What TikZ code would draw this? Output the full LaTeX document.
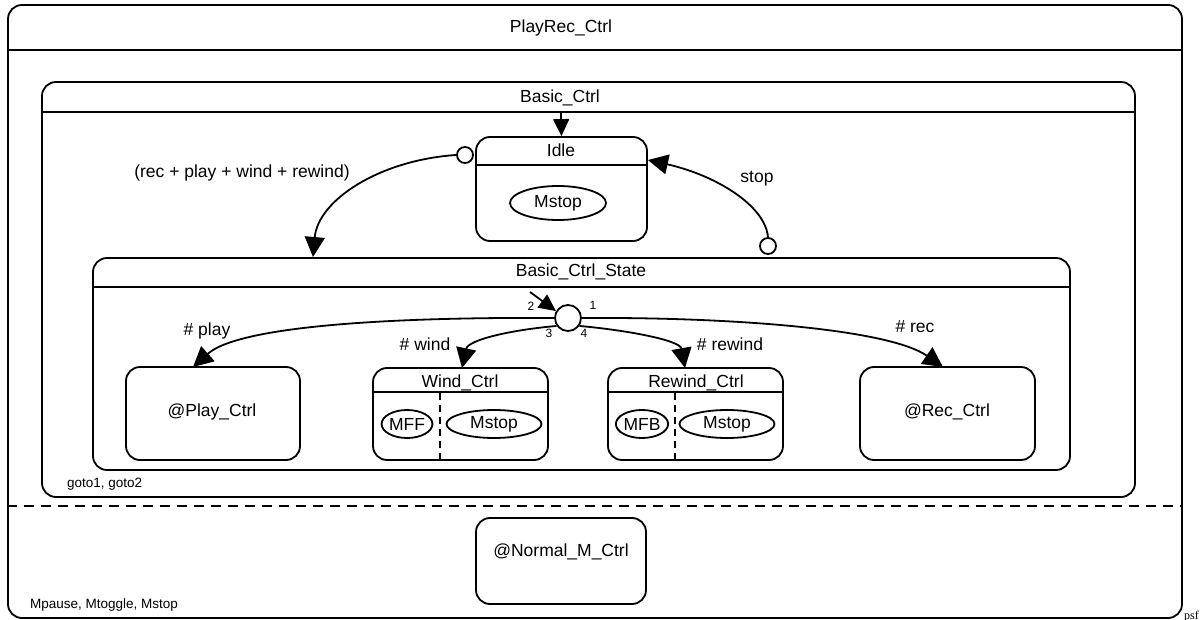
\documentclass[tikz,border=0pt]{standalone}
\usepackage{fontspec}
\setmainfont{Liberation Sans}
\newfontfamily\psffont{Liberation Serif}
\usetikzlibrary{arrows.meta,calc,shapes.geometric}
\begin{document}
\begin{tikzpicture}[x=1pt,y=-1pt,
  lw/.style={line width=1.8pt},
  statebox/.style={draw, line width=1.8pt, rounded corners=14pt, inner sep=0pt},
  lbl/.style={font=\fontsize{17.5}{20}\selectfont, inner sep=0pt, anchor=base},
  small/.style={font=\fontsize{13.5}{16}\selectfont, inner sep=0pt, anchor=base west},
  num/.style={font=\fontsize{12}{14}\selectfont, inner sep=0pt},
  act/.style={draw, ellipse, line width=1.8pt, inner sep=0pt, font=\fontsize{17.5}{20}\selectfont},
  trans/.style={line width=1.8pt, -{Triangle[length=20pt,width=20pt]}},
  strans/.style={line width=1.8pt, -{Triangle[length=17pt,width=16pt]}},
  src/.style={draw, circle, line width=1.8pt, fill=white, minimum size=16pt, inner sep=0pt},
  hubst/.style={draw, circle, line width=1.8pt, fill=white, minimum size=26pt, inner sep=0pt},
  sep/.style={line width=1.8pt, dash pattern=on 10pt off 7pt},
  csep/.style={line width=1.8pt, dash pattern=on 7pt off 5pt},
]
\useasboundingbox (0,0) rectangle (1202,620);
\fill[white] (0,0) rectangle (1202,620);

% boxes
\node[statebox, minimum width=1174pt, minimum height=613pt] (outer) at (595,311.5) {};
\node[statebox, minimum width=1093pt, minimum height=415pt] (basic) at (588.5,289.5) {};
\node[statebox, minimum width=171pt, minimum height=104pt] (idle) at (561.5,189) {};
\node[statebox, minimum width=977pt, minimum height=212pt] (bcs) at (581.5,364) {};
\node[statebox, minimum width=174pt, minimum height=93pt] (play) at (213,413.5) {};
\node[statebox, minimum width=175pt, minimum height=92pt] (wind) at (460.5,414) {};
\node[statebox, minimum width=175pt, minimum height=92pt] (rewind) at (695.5,414) {};
\node[statebox, minimum width=175pt, minimum height=93pt] (rec) at (947.5,413.5) {};
\node[statebox, minimum width=170pt, minimum height=86pt] (normal) at (561,561) {};

% header lines
\draw[lw] ($(outer.north west)+(0,46)$) -- ($(outer.north east)+(0,46)$);
\draw[lw] ($(basic.north west)+(0,31)$) -- ($(basic.north east)+(0,31)$);
\draw[lw] ($(idle.north west)+(0,29)$) -- ($(idle.north east)+(0,29)$);
\draw[lw] ($(bcs.north west)+(0,30)$) -- ($(bcs.north east)+(0,30)$);
\draw[lw] ($(wind.north west)+(0,25)$) -- ($(wind.north east)+(0,25)$);
\draw[lw] ($(rewind.north west)+(0,25)$) -- ($(rewind.north east)+(0,25)$);

% separators
\coordinate (sepy) at (0,506);
\coordinate (c1) at (440,393);
\coordinate (c2) at (675,393);
\draw[sep] (outer.west |- sepy) -- (outer.east |- sepy);
\draw[csep] (c1) -- (c1 |- wind.south);
\draw[csep] (c2) -- (c2 |- rewind.south);

% titles
\node[lbl] (t-outer) at (561,33) {PlayRec\_Ctrl};
\node[lbl] (t-basic) at (560,103) {Basic\_Ctrl};
\node[lbl] (t-idle) at (561,157) {Idle};
\node[lbl] (t-bcs) at (581,277) {Basic\_Ctrl\_State};
\node[lbl] (t-wind) at (460,387) {Wind\_Ctrl};
\node[lbl] (t-rewind) at (696,387) {Rewind\_Ctrl};
\node[lbl] (t-play) at (212,416) {@Play\_Ctrl};
\node[lbl] (t-rec) at (947,416) {@Rec\_Ctrl};
\node[lbl] (t-normal) at (561,556) {@Normal\_M\_Ctrl};

% actions
\node[act, minimum width=96pt, minimum height=34pt] (a-idle) at (558,203) {Mstop};
\node[act, minimum width=50pt, minimum height=28pt] (a-mff) at (407,424) {MFF};
\node[act, minimum width=95pt, minimum height=28pt] (a-wstop) at (494,424) {Mstop};
\node[act, minimum width=51pt, minimum height=28pt] (a-mfb) at (642,424) {MFB};
\node[act, minimum width=95pt, minimum height=28pt] (a-rstop) at (727,424) {Mstop};

% small texts
\node[small] (goto) at (67,487) {goto1, goto2};
\node[small] (mp) at (30,608) {Mpause, Mtoggle, Mstop};
\node[font=\psffont\fontsize{12}{14}\selectfont, inner sep=0pt, anchor=base west] (psf) at (1184,619) {psf};

% coordinates for free ends
\coordinate (idleentry) at (561,113);
\coordinate (t1) at (313,257);
\coordinate (t2) at (648,160);
\coordinate (h2) at (530,292);
\coordinate (tp) at (193,367);
\coordinate (tw) at (462,368);
\coordinate (tr) at (685,368);
\coordinate (tc) at (943,367);

% transitions
\draw[strans] (idleentry) -- (idle.north);
\node[src] (s1) at (465,155) {};
\node[src] (s2) at (768,246) {};
\draw[trans] (s1.west) .. controls (380,160) and (318,200) .. (t1);
\draw[trans] (s2.north) .. controls (765,205) and (715,175) .. (t2);

\node[hubst] (hub) at (568,318) {};
\draw[strans] (h2) -- (hub.150);
\draw[trans] (hub.180) .. controls (400,317) and (240,325) .. (tp);
\draw[trans] (hub.215) .. controls (510,330) and (468,340) .. (tw);
\draw[trans] (hub.325) .. controls (625,330) and (680,340) .. (tr);
\draw[trans] (hub.0) .. controls (740,317) and (890,330) .. (tc);

% labels
\node[lbl] (l1) at (242,178) {(rec + play + wind + rewind)};
\node[lbl] (l2) at (757,183) {stop};
\node[lbl] (l3) at (207,335) {\# play};
\node[lbl] (l4) at (915,333) {\# rec};
\node[lbl] (l5) at (425,350) {\# wind};
\node[lbl] (l6) at (730,350) {\# rewind};
\node[num] (n2) at (531,306) {2};
\node[num] (n1) at (593,305) {1};
\node[num] (n3) at (549,333) {3};
\node[num] (n4) at (584,333) {4};
\end{tikzpicture}
\end{document}
